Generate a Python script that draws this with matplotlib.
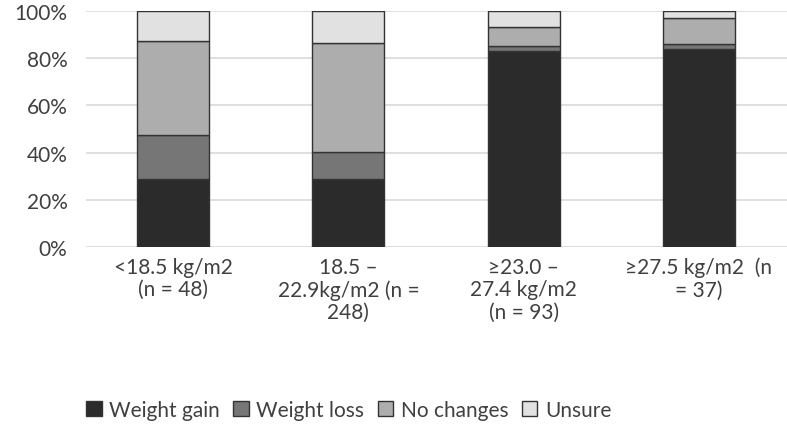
import matplotlib
matplotlib.use("Agg")
import matplotlib.pyplot as plt
import numpy as np

categories = [
    "<18.5 kg/m2\n(n = 48)",
    "18.5 \u2013\n22.9kg/m2 (n =\n248)",
    "\u226523.0 \u2013\n27.4 kg/m2\n(n = 93)",
    "\u226527.5 kg/m2  (n\n= 37)",
]
weight_gain = [28.8, 28.8, 83.2, 83.9]
weight_loss = [18.7, 11.3, 1.8, 2.1]
no_changes = [39.7, 46.3, 8.4, 11.0]
unsure = [12.8, 13.6, 6.6, 3.0]

series = [
    ("Weight gain", weight_gain, "#2b2b2b"),
    ("Weight loss", weight_loss, "#767676"),
    ("No changes", no_changes, "#adadad"),
    ("Unsure", unsure, "#e1e1e1"),
]

plt.rcParams["font.family"] = ["Lato", "DejaVu Sans"]
TXT = "#404040"

fig = plt.figure(figsize=(7.87, 4.31), dpi=100)
ax = fig.add_axes([85.5 / 787, 1 - 248 / 431, 701 / 787, 236 / 431])

x = np.arange(len(categories))
bottom = np.zeros(len(categories))
for name, vals, color in series:
    ax.bar(x, vals, width=0.41, bottom=bottom, color=color, edgecolor="#333333",
           linewidth=1.0, label=name, zorder=3)
    bottom += np.array(vals)

ax.set_xlim(-0.5, len(categories) - 0.5)
ax.set_ylim(0, 100)
ax.set_yticks(range(0, 101, 20))
ax.set_yticklabels([f"{v}%" for v in range(0, 101, 20)], fontsize=15, color=TXT)
ax.set_xticks(x)
ax.set_xticklabels(categories, fontsize=15, color=TXT, linespacing=1.15)
ax.tick_params(axis="x", length=0, pad=7)
ax.tick_params(axis="y", length=0, pad=13)
ax.grid(axis="y", color="#d9d9d9", linewidth=1.2, zorder=0)
for s in ax.spines.values():
    s.set_visible(False)

fig.legend(loc="center", bbox_to_anchor=(0.443, 1 - 411 / 431), ncol=4, frameon=False,
           fontsize=15, handlelength=0.75, handleheight=0.75, handletextpad=0.35,
           columnspacing=0.65, labelcolor=TXT)

fig.savefig("out.png", dpi=100)
